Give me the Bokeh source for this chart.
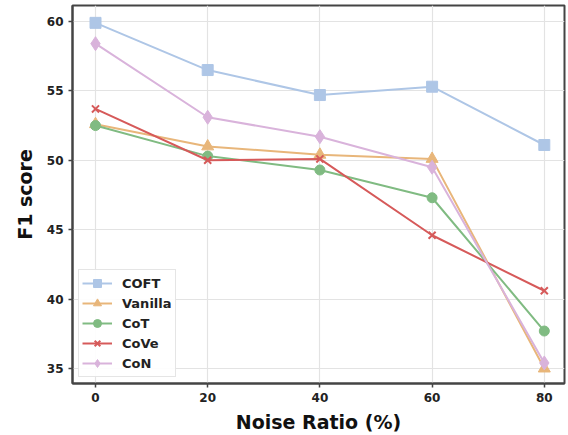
from bokeh.plotting import figure
from bokeh.models import Range1d, FixedTicker, Legend
from bokeh.embed import file_html
from bokeh.resources import INLINE

noise = [0, 20, 40, 60, 80]
coft = [59.9, 56.5, 54.7, 55.3, 51.1]
vanilla = [52.6, 51.0, 50.4, 50.1, 35.0]
cot = [52.5, 50.3, 49.3, 47.3, 37.7]
cove = [53.7, 50.0, 50.1, 44.6, 40.6]
con = [58.4, 53.1, 51.7, 49.5, 35.4]

x_ticks = [0, 20, 40, 60, 80]
y_ticks = [35, 40, 45, 50, 55, 60]

series = [
    ("COFT", coft, "#aec6e6", "square"),
    ("Vanilla", vanilla, "#e8b67a", "triangle"),
    ("CoT", cot, "#80bb82", "circle"),
    ("CoVe", cove, "#d65a5a", "x"),
    ("CoN", con, "#d9b3db", "diamond"),
]

FONT = "DejaVu Sans"

p = figure(width=568, height=435, output_backend="svg", toolbar_location=None,
           x_range=Range1d(-4.1, 83.6), y_range=Range1d(33.92, 61.15),
           min_border_left=72, min_border_right=4, min_border_top=5, min_border_bottom=51)

renderers = []
for name, vals, col, mk in series:
    l = p.line(noise, vals, line_color=col, line_width=2)
    if mk == "x":
        s = p.scatter(noise, vals, marker=mk, size=10, line_color=col, line_width=2)
    else:
        sz = {"square": 11, "triangle": 12, "circle": 10, "diamond": 14}[mk]
        s = p.scatter(noise, vals, marker=mk, size=sz, fill_color=col, line_color=col)
    renderers.append((name, [l, s]))

legend = Legend(items=renderers, location=(6, 6))
legend.label_text_font = FONT
legend.label_text_font_style = "bold"
legend.label_text_font_size = "13px"
legend.label_text_color = "#222222"
legend.glyph_width = 30
legend.glyph_height = 20
legend.label_height = 20
legend.label_standoff = 10
legend.spacing = 0
legend.padding = 3
legend.margin = 0
legend.border_line_color = "#cccccc"
legend.border_line_width = 1
legend.background_fill_alpha = 0.9
p.add_layout(legend, "center")

p.xaxis.ticker = FixedTicker(ticks=x_ticks)
p.yaxis.ticker = FixedTicker(ticks=y_ticks)
p.xaxis.minor_tick_line_color = None
p.yaxis.minor_tick_line_color = None
for ax in (p.xaxis, p.yaxis):
    ax.major_label_text_font = FONT
    ax.major_label_text_font_style = "bold"
    ax.major_label_text_font_size = "12px"
    ax.major_label_text_color = "#222222"
    ax.axis_label_text_font = FONT
    ax.axis_label_text_font_style = "bold"
    ax.axis_label_text_font_size = "19px"
    ax.axis_label_text_color = "#111111"
    ax.axis_line_color = "#444444"
    ax.axis_line_width = 2
    ax.major_tick_line_color = "#444444"
    ax.major_tick_line_width = 1.5
    ax.major_tick_in = 0
    ax.major_tick_out = 4
p.xaxis.axis_label = "Noise Ratio (%)"
p.yaxis.axis_label = "F1 score"
p.xaxis.major_label_standoff = 5
p.yaxis.major_label_standoff = 5
p.xaxis.axis_label_standoff = 6
p.yaxis.axis_label_standoff = 8

p.xgrid.grid_line_color = "#e3e3e3"
p.ygrid.grid_line_color = "#e3e3e3"
p.xgrid.grid_line_width = 1.2
p.ygrid.grid_line_width = 1.2

p.outline_line_color = "#444444"
p.outline_line_width = 2
p.outline_line_alpha = 1
p.background_fill_color = "white"
p.border_fill_color = "white"

open("out.html", "w").write(file_html(p, INLINE))
